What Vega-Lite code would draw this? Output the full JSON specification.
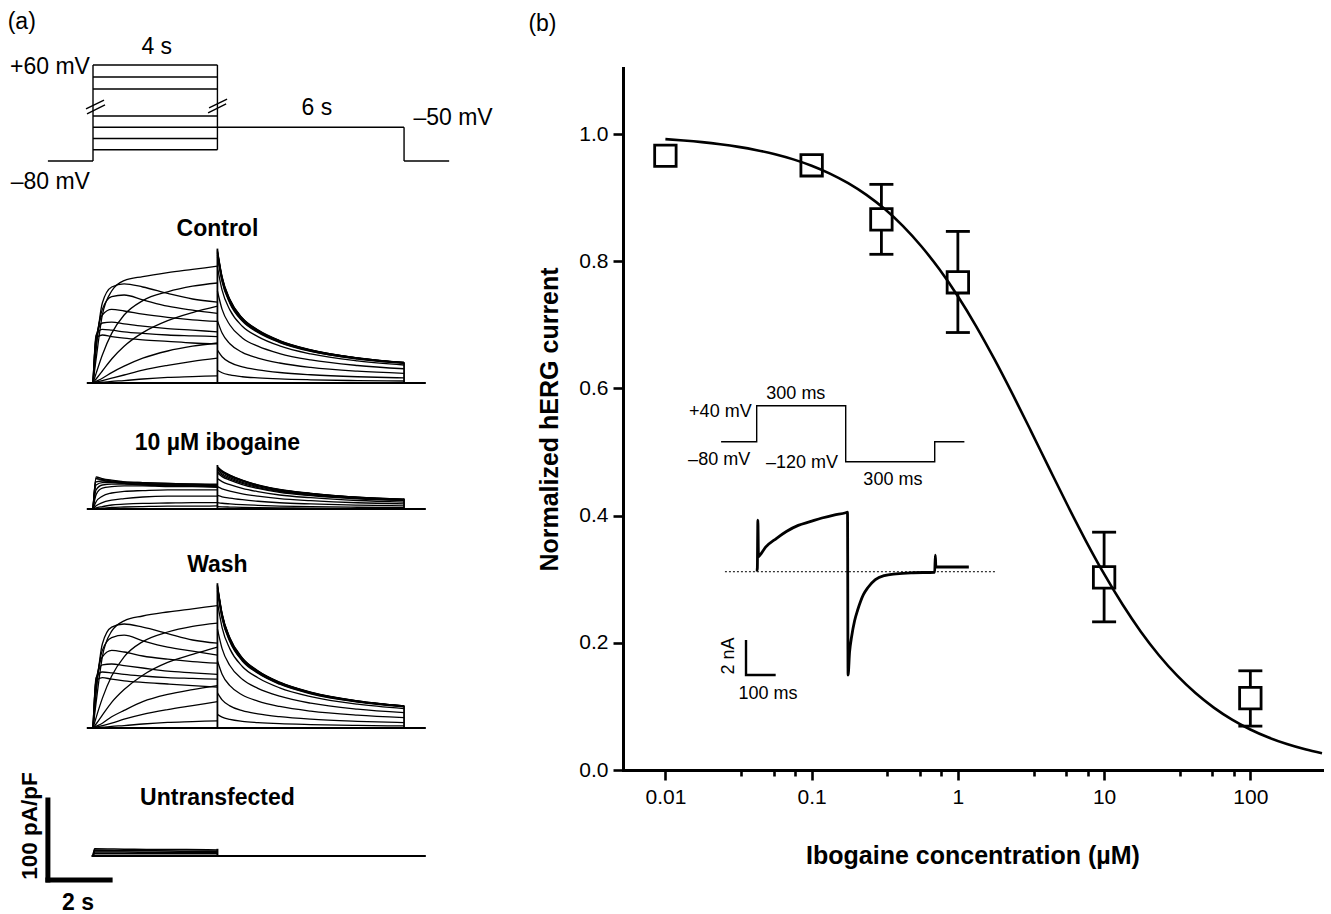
{
  "$schema": "https://vega.github.io/schema/vega-lite/v6.json",
  "padding": 0,
  "background": "white",
  "bounds": "flush",
  "spacing": 153,
  "config": {
    "view": {"stroke": null},
    "font": "Liberation Sans",
    "text": {"color": "black", "font": "Liberation Sans"},
    "line": {"color": "black"},
    "rule": {"color": "black"}
  },
  "datasets": {
    "ctrl": [
      {"k":"s1","t":0,"i":0},{"k":"s1","t":0.1,"i":56},{"k":"s1","t":0.3,"i":60},{"k":"s1","t":0.6,"i":58},{"k":"s1","t":1,"i":56},{"k":"s1","t":1.6,"i":54},{"k":"s1","t":2.4,"i":52},{"k":"s1","t":3.2,"i":50},{"k":"s1","t":4,"i":49},
      {"k":"t1","t":4,"i":160},{"k":"t1","t":4.15,"i":128},{"k":"t1","t":4.4,"i":100.8},{"k":"t1","t":4.8,"i":78.4},{"k":"t1","t":5.3,"i":64},{"k":"t1","t":6,"i":51.2},{"k":"t1","t":7,"i":40},{"k":"t1","t":8.5,"i":30.4},{"k":"t1","t":10,"i":24.8},
      {"k":"s2","t":0,"i":0},{"k":"s2","t":0.1,"i":60},{"k":"s2","t":0.3,"i":67},{"k":"s2","t":0.6,"i":66},{"k":"s2","t":1,"i":64},{"k":"s2","t":1.6,"i":62},{"k":"s2","t":2.4,"i":60},{"k":"s2","t":3.2,"i":59},{"k":"s2","t":4,"i":58},
      {"k":"t2","t":4,"i":162},{"k":"t2","t":4.15,"i":129.6},{"k":"t2","t":4.4,"i":102.1},{"k":"t2","t":4.8,"i":79.4},{"k":"t2","t":5.3,"i":64.8},{"k":"t2","t":6,"i":51.8},{"k":"t2","t":7,"i":40.5},{"k":"t2","t":8.5,"i":30.8},{"k":"t2","t":10,"i":25.1},
      {"k":"s3","t":0,"i":0},{"k":"s3","t":0.1,"i":58},{"k":"s3","t":0.3,"i":75},{"k":"s3","t":0.6,"i":76},{"k":"s3","t":1,"i":74},{"k":"s3","t":1.6,"i":71},{"k":"s3","t":2.4,"i":68},{"k":"s3","t":3.2,"i":66},{"k":"s3","t":4,"i":64},
      {"k":"t3","t":4,"i":164},{"k":"t3","t":4.15,"i":131.2},{"k":"t3","t":4.4,"i":103.3},{"k":"t3","t":4.8,"i":80.4},{"k":"t3","t":5.3,"i":65.6},{"k":"t3","t":6,"i":52.5},{"k":"t3","t":7,"i":41},{"k":"t3","t":8.5,"i":31.2},{"k":"t3","t":10,"i":25.4},
      {"k":"s4","t":0,"i":0},{"k":"s4","t":0.1,"i":52},{"k":"s4","t":0.3,"i":85},{"k":"s4","t":0.6,"i":92},{"k":"s4","t":1,"i":90},{"k":"s4","t":1.6,"i":86},{"k":"s4","t":2.4,"i":82},{"k":"s4","t":3.2,"i":79},{"k":"s4","t":4,"i":77},
      {"k":"t4","t":4,"i":166},{"k":"t4","t":4.15,"i":132.8},{"k":"t4","t":4.4,"i":104.6},{"k":"t4","t":4.8,"i":81.3},{"k":"t4","t":5.3,"i":66.4},{"k":"t4","t":6,"i":53.1},{"k":"t4","t":7,"i":41.5},{"k":"t4","t":8.5,"i":31.5},{"k":"t4","t":10,"i":25.7},
      {"k":"s5","t":0,"i":0},{"k":"s5","t":0.1,"i":45},{"k":"s5","t":0.3,"i":92},{"k":"s5","t":0.6,"i":108},{"k":"s5","t":1,"i":110},{"k":"s5","t":1.6,"i":104},{"k":"s5","t":2.4,"i":96},{"k":"s5","t":3.2,"i":91},{"k":"s5","t":4,"i":87},
      {"k":"t5","t":4,"i":165},{"k":"t5","t":4.15,"i":132},{"k":"t5","t":4.4,"i":104},{"k":"t5","t":4.8,"i":80.9},{"k":"t5","t":5.3,"i":66},{"k":"t5","t":6,"i":52.8},{"k":"t5","t":7,"i":41.3},{"k":"t5","t":8.5,"i":31.4},{"k":"t5","t":10,"i":25.6},
      {"k":"s6","t":0,"i":0},{"k":"s6","t":0.1,"i":42},{"k":"s6","t":0.3,"i":100},{"k":"s6","t":0.6,"i":120},{"k":"s6","t":1,"i":124},{"k":"s6","t":1.6,"i":120},{"k":"s6","t":2.4,"i":112},{"k":"s6","t":3.2,"i":105},{"k":"s6","t":4,"i":101},
      {"k":"t6","t":4,"i":163},{"k":"t6","t":4.15,"i":130.4},{"k":"t6","t":4.4,"i":102.7},{"k":"t6","t":4.8,"i":79.9},{"k":"t6","t":5.3,"i":65.2},{"k":"t6","t":6,"i":52.2},{"k":"t6","t":7,"i":40.8},{"k":"t6","t":8.5,"i":31},{"k":"t6","t":10,"i":25.3},
      {"k":"s7","t":0,"i":0},{"k":"s7","t":0.1,"i":30},{"k":"s7","t":0.3,"i":85},{"k":"s7","t":0.6,"i":115},{"k":"s7","t":1,"i":128},{"k":"s7","t":1.6,"i":133},{"k":"s7","t":2.4,"i":138},{"k":"s7","t":3.2,"i":142},{"k":"s7","t":4,"i":146},
      {"k":"t7","t":4,"i":158},{"k":"t7","t":4.15,"i":126.4},{"k":"t7","t":4.4,"i":99.5},{"k":"t7","t":4.8,"i":77.4},{"k":"t7","t":5.3,"i":63.2},{"k":"t7","t":6,"i":50.6},{"k":"t7","t":7,"i":39.5},{"k":"t7","t":8.5,"i":30},{"k":"t7","t":10,"i":24.5},
      {"k":"s8","t":0,"i":0},{"k":"s8","t":0.1,"i":12},{"k":"s8","t":0.3,"i":35},{"k":"s8","t":0.6,"i":62},{"k":"s8","t":1,"i":85},{"k":"s8","t":1.6,"i":103},{"k":"s8","t":2.4,"i":114},{"k":"s8","t":3.2,"i":121},{"k":"s8","t":4,"i":125},
      {"k":"t8","t":4,"i":145},{"k":"t8","t":4.15,"i":116},{"k":"t8","t":4.4,"i":91.4},{"k":"t8","t":4.8,"i":71},{"k":"t8","t":5.3,"i":58},{"k":"t8","t":6,"i":46.4},{"k":"t8","t":7,"i":36.3},{"k":"t8","t":8.5,"i":27.6},{"k":"t8","t":10,"i":22.5},
      {"k":"s9","t":0,"i":0},{"k":"s9","t":0.1,"i":5},{"k":"s9","t":0.3,"i":15},{"k":"s9","t":0.6,"i":30},{"k":"s9","t":1,"i":46},{"k":"s9","t":1.6,"i":63},{"k":"s9","t":2.4,"i":78},{"k":"s9","t":3.2,"i":88},{"k":"s9","t":4,"i":96},
      {"k":"t9","t":4,"i":115},{"k":"t9","t":4.15,"i":92},{"k":"t9","t":4.4,"i":72.5},{"k":"t9","t":4.8,"i":56.4},{"k":"t9","t":5.3,"i":46},{"k":"t9","t":6,"i":36.8},{"k":"t9","t":7,"i":28.8},{"k":"t9","t":8.5,"i":21.9},{"k":"t9","t":10,"i":17.8},
      {"k":"s10","t":0,"i":0},{"k":"s10","t":0.1,"i":2},{"k":"s10","t":0.3,"i":6},{"k":"s10","t":0.6,"i":13},{"k":"s10","t":1,"i":21},{"k":"s10","t":1.6,"i":31},{"k":"s10","t":2.4,"i":40},{"k":"s10","t":3.2,"i":46},{"k":"s10","t":4,"i":50},
      {"k":"t10","t":4,"i":78},{"k":"t10","t":4.15,"i":62.4},{"k":"t10","t":4.4,"i":49.1},{"k":"t10","t":4.8,"i":38.2},{"k":"t10","t":5.3,"i":31.2},{"k":"t10","t":6,"i":25},{"k":"t10","t":7,"i":19.5},{"k":"t10","t":8.5,"i":14.8},{"k":"t10","t":10,"i":12.1},
      {"k":"s11","t":0,"i":0},{"k":"s11","t":0.1,"i":1},{"k":"s11","t":0.3,"i":3},{"k":"s11","t":0.6,"i":6},{"k":"s11","t":1,"i":10},{"k":"s11","t":1.6,"i":16},{"k":"s11","t":2.4,"i":22},{"k":"s11","t":3.2,"i":27},{"k":"s11","t":4,"i":31},
      {"k":"t11","t":4,"i":41},{"k":"t11","t":4.15,"i":32.8},{"k":"t11","t":4.4,"i":25.8},{"k":"t11","t":4.8,"i":20.1},{"k":"t11","t":5.3,"i":16.4},{"k":"t11","t":6,"i":13.1},{"k":"t11","t":7,"i":10.3},{"k":"t11","t":8.5,"i":7.8},{"k":"t11","t":10,"i":6.4},
      {"k":"s12","t":0,"i":0},{"k":"s12","t":0.1,"i":0.5},{"k":"s12","t":0.3,"i":1},{"k":"s12","t":0.6,"i":2},{"k":"s12","t":1,"i":3},{"k":"s12","t":1.6,"i":5},{"k":"s12","t":2.4,"i":7},{"k":"s12","t":3.2,"i":8},{"k":"s12","t":4,"i":9},
      {"k":"t12","t":4,"i":16},{"k":"t12","t":4.15,"i":12.8},{"k":"t12","t":4.4,"i":10.1},{"k":"t12","t":4.8,"i":7.8},{"k":"t12","t":5.3,"i":6.4},{"k":"t12","t":6,"i":5.1},{"k":"t12","t":7,"i":4},{"k":"t12","t":8.5,"i":3},{"k":"t12","t":10,"i":2.5}
    ],
    "ibo": [
      {"k":"s1","t":0,"i":0},{"k":"s1","t":0.1,"i":38},{"k":"s1","t":0.3,"i":36},{"k":"s1","t":0.6,"i":34},{"k":"s1","t":1,"i":32},{"k":"s1","t":1.6,"i":31},{"k":"s1","t":2.4,"i":30},{"k":"s1","t":3.2,"i":29},{"k":"s1","t":4,"i":28},
      {"k":"t1","t":4,"i":52},{"k":"t1","t":4.15,"i":46.8},{"k":"t1","t":4.4,"i":41.6},{"k":"t1","t":4.8,"i":35.4},{"k":"t1","t":5.3,"i":29.6},{"k":"t1","t":6,"i":23.9},{"k":"t1","t":7,"i":19.2},{"k":"t1","t":8.5,"i":14.6},{"k":"t1","t":10,"i":12},
      {"k":"s2","t":0,"i":0},{"k":"s2","t":0.1,"i":40},{"k":"s2","t":0.3,"i":38},{"k":"s2","t":0.6,"i":36},{"k":"s2","t":1,"i":34},{"k":"s2","t":1.6,"i":33},{"k":"s2","t":2.4,"i":32},{"k":"s2","t":3.2,"i":31},{"k":"s2","t":4,"i":30},
      {"k":"t2","t":4,"i":53},{"k":"t2","t":4.15,"i":47.7},{"k":"t2","t":4.4,"i":42.4},{"k":"t2","t":4.8,"i":36},{"k":"t2","t":5.3,"i":30.2},{"k":"t2","t":6,"i":24.4},{"k":"t2","t":7,"i":19.6},{"k":"t2","t":8.5,"i":14.8},{"k":"t2","t":10,"i":12.2},
      {"k":"s3","t":0,"i":0},{"k":"s3","t":0.1,"i":38},{"k":"s3","t":0.3,"i":37},{"k":"s3","t":0.6,"i":35},{"k":"s3","t":1,"i":34},{"k":"s3","t":1.6,"i":33},{"k":"s3","t":2.4,"i":32},{"k":"s3","t":3.2,"i":31},{"k":"s3","t":4,"i":31},
      {"k":"t3","t":4,"i":52.5},{"k":"t3","t":4.15,"i":47.3},{"k":"t3","t":4.4,"i":42},{"k":"t3","t":4.8,"i":35.7},{"k":"t3","t":5.3,"i":29.9},{"k":"t3","t":6,"i":24.2},{"k":"t3","t":7,"i":19.4},{"k":"t3","t":8.5,"i":14.7},{"k":"t3","t":10,"i":12.1},
      {"k":"s4","t":0,"i":0},{"k":"s4","t":0.1,"i":34},{"k":"s4","t":0.3,"i":35},{"k":"s4","t":0.6,"i":34},{"k":"s4","t":1,"i":33},{"k":"s4","t":1.6,"i":32},{"k":"s4","t":2.4,"i":31},{"k":"s4","t":3.2,"i":31},{"k":"s4","t":4,"i":30},
      {"k":"t4","t":4,"i":51},{"k":"t4","t":4.15,"i":45.9},{"k":"t4","t":4.4,"i":40.8},{"k":"t4","t":4.8,"i":34.7},{"k":"t4","t":5.3,"i":29.1},{"k":"t4","t":6,"i":23.5},{"k":"t4","t":7,"i":18.9},{"k":"t4","t":8.5,"i":14.3},{"k":"t4","t":10,"i":11.7},
      {"k":"s5","t":0,"i":0},{"k":"s5","t":0.1,"i":30},{"k":"s5","t":0.3,"i":33},{"k":"s5","t":0.6,"i":33},{"k":"s5","t":1,"i":32},{"k":"s5","t":1.6,"i":31},{"k":"s5","t":2.4,"i":30},{"k":"s5","t":3.2,"i":30},{"k":"s5","t":4,"i":29},
      {"k":"t5","t":4,"i":49},{"k":"t5","t":4.15,"i":44.1},{"k":"t5","t":4.4,"i":39.2},{"k":"t5","t":4.8,"i":33.3},{"k":"t5","t":5.3,"i":27.9},{"k":"t5","t":6,"i":22.5},{"k":"t5","t":7,"i":18.1},{"k":"t5","t":8.5,"i":13.7},{"k":"t5","t":10,"i":11.3},
      {"k":"s6","t":0,"i":0},{"k":"s6","t":0.1,"i":24},{"k":"s6","t":0.3,"i":30},{"k":"s6","t":0.6,"i":31},{"k":"s6","t":1,"i":31},{"k":"s6","t":1.6,"i":30},{"k":"s6","t":2.4,"i":29},{"k":"s6","t":3.2,"i":29},{"k":"s6","t":4,"i":28},
      {"k":"t6","t":4,"i":47},{"k":"t6","t":4.15,"i":42.3},{"k":"t6","t":4.4,"i":37.6},{"k":"t6","t":4.8,"i":32},{"k":"t6","t":5.3,"i":26.8},{"k":"t6","t":6,"i":21.6},{"k":"t6","t":7,"i":17.4},{"k":"t6","t":8.5,"i":13.2},{"k":"t6","t":10,"i":10.8},
      {"k":"s7","t":0,"i":0},{"k":"s7","t":0.1,"i":18},{"k":"s7","t":0.3,"i":26},{"k":"s7","t":0.6,"i":28},{"k":"s7","t":1,"i":29},{"k":"s7","t":1.6,"i":29},{"k":"s7","t":2.4,"i":28},{"k":"s7","t":3.2,"i":28},{"k":"s7","t":4,"i":27},
      {"k":"t7","t":4,"i":45},{"k":"t7","t":4.15,"i":40.5},{"k":"t7","t":4.4,"i":36},{"k":"t7","t":4.8,"i":30.6},{"k":"t7","t":5.3,"i":25.7},{"k":"t7","t":6,"i":20.7},{"k":"t7","t":7,"i":16.7},{"k":"t7","t":8.5,"i":12.6},{"k":"t7","t":10,"i":10.4},
      {"k":"s8","t":0,"i":0},{"k":"s8","t":0.1,"i":9},{"k":"s8","t":0.3,"i":16},{"k":"s8","t":0.6,"i":20},{"k":"s8","t":1,"i":22},{"k":"s8","t":1.6,"i":23},{"k":"s8","t":2.4,"i":24},{"k":"s8","t":3.2,"i":24},{"k":"s8","t":4,"i":24},
      {"k":"t8","t":4,"i":38},{"k":"t8","t":4.15,"i":34.2},{"k":"t8","t":4.4,"i":30.4},{"k":"t8","t":4.8,"i":25.8},{"k":"t8","t":5.3,"i":21.7},{"k":"t8","t":6,"i":17.5},{"k":"t8","t":7,"i":14.1},{"k":"t8","t":8.5,"i":10.6},{"k":"t8","t":10,"i":8.7},
      {"k":"s9","t":0,"i":0},{"k":"s9","t":0.1,"i":4},{"k":"s9","t":0.3,"i":8},{"k":"s9","t":0.6,"i":11},{"k":"s9","t":1,"i":13},{"k":"s9","t":1.6,"i":15},{"k":"s9","t":2.4,"i":16},{"k":"s9","t":3.2,"i":16},{"k":"s9","t":4,"i":16},
      {"k":"t9","t":4,"i":28},{"k":"t9","t":4.15,"i":25.2},{"k":"t9","t":4.4,"i":22.4},{"k":"t9","t":4.8,"i":19},{"k":"t9","t":5.3,"i":16},{"k":"t9","t":6,"i":12.9},{"k":"t9","t":7,"i":10.4},{"k":"t9","t":8.5,"i":7.8},{"k":"t9","t":10,"i":6.4},
      {"k":"s10","t":0,"i":0},{"k":"s10","t":0.1,"i":1.5},{"k":"s10","t":0.3,"i":3},{"k":"s10","t":0.6,"i":5},{"k":"s10","t":1,"i":6},{"k":"s10","t":1.6,"i":7},{"k":"s10","t":2.4,"i":7.5},{"k":"s10","t":3.2,"i":8},{"k":"s10","t":4,"i":8},
      {"k":"t10","t":4,"i":17},{"k":"t10","t":4.15,"i":15.3},{"k":"t10","t":4.4,"i":13.6},{"k":"t10","t":4.8,"i":11.6},{"k":"t10","t":5.3,"i":9.7},{"k":"t10","t":6,"i":7.8},{"k":"t10","t":7,"i":6.3},{"k":"t10","t":8.5,"i":4.8},{"k":"t10","t":10,"i":3.9},
      {"k":"s11","t":0,"i":0},{"k":"s11","t":0.1,"i":0.5},{"k":"s11","t":0.3,"i":1},{"k":"s11","t":0.6,"i":2},{"k":"s11","t":1,"i":2.5},{"k":"s11","t":1.6,"i":3},{"k":"s11","t":2.4,"i":3.5},{"k":"s11","t":3.2,"i":3.5},{"k":"s11","t":4,"i":4},
      {"k":"t11","t":4,"i":8},{"k":"t11","t":4.15,"i":7.2},{"k":"t11","t":4.4,"i":6.4},{"k":"t11","t":4.8,"i":5.4},{"k":"t11","t":5.3,"i":4.6},{"k":"t11","t":6,"i":3.7},{"k":"t11","t":7,"i":3},{"k":"t11","t":8.5,"i":2.2},{"k":"t11","t":10,"i":1.8},
      {"k":"t12","t":4,"i":3},{"k":"t12","t":4.15,"i":2.7},{"k":"t12","t":4.4,"i":2.4},{"k":"t12","t":4.8,"i":2},{"k":"t12","t":5.3,"i":1.7},{"k":"t12","t":6,"i":1.4},{"k":"t12","t":7,"i":1.1},{"k":"t12","t":8.5,"i":0.8},{"k":"t12","t":10,"i":0.7}
    ],
    "wash": [
      {"k":"s1","t":0,"i":0},{"k":"s1","t":0.1,"i":59},{"k":"s1","t":0.3,"i":63},{"k":"s1","t":0.6,"i":61},{"k":"s1","t":1,"i":59},{"k":"s1","t":1.6,"i":57},{"k":"s1","t":2.4,"i":55},{"k":"s1","t":3.2,"i":53},{"k":"s1","t":4,"i":51},
      {"k":"t1","t":4,"i":173},{"k":"t1","t":4.15,"i":138.4},{"k":"t1","t":4.4,"i":109},{"k":"t1","t":4.8,"i":84.8},{"k":"t1","t":5.3,"i":69.2},{"k":"t1","t":6,"i":55.4},{"k":"t1","t":7,"i":43.3},{"k":"t1","t":8.5,"i":32.9},{"k":"t1","t":10,"i":26.8},
      {"k":"s2","t":0,"i":0},{"k":"s2","t":0.1,"i":63},{"k":"s2","t":0.3,"i":70},{"k":"s2","t":0.6,"i":69},{"k":"s2","t":1,"i":67},{"k":"s2","t":1.6,"i":65},{"k":"s2","t":2.4,"i":63},{"k":"s2","t":3.2,"i":62},{"k":"s2","t":4,"i":61},
      {"k":"t2","t":4,"i":175},{"k":"t2","t":4.15,"i":140},{"k":"t2","t":4.4,"i":110.3},{"k":"t2","t":4.8,"i":85.8},{"k":"t2","t":5.3,"i":70},{"k":"t2","t":6,"i":56},{"k":"t2","t":7,"i":43.8},{"k":"t2","t":8.5,"i":33.3},{"k":"t2","t":10,"i":27.1},
      {"k":"s3","t":0,"i":0},{"k":"s3","t":0.1,"i":61},{"k":"s3","t":0.3,"i":79},{"k":"s3","t":0.6,"i":80},{"k":"s3","t":1,"i":78},{"k":"s3","t":1.6,"i":75},{"k":"s3","t":2.4,"i":71},{"k":"s3","t":3.2,"i":69},{"k":"s3","t":4,"i":67},
      {"k":"t3","t":4,"i":177},{"k":"t3","t":4.15,"i":141.6},{"k":"t3","t":4.4,"i":111.5},{"k":"t3","t":4.8,"i":86.7},{"k":"t3","t":5.3,"i":70.8},{"k":"t3","t":6,"i":56.6},{"k":"t3","t":7,"i":44.3},{"k":"t3","t":8.5,"i":33.6},{"k":"t3","t":10,"i":27.4},
      {"k":"s4","t":0,"i":0},{"k":"s4","t":0.1,"i":55},{"k":"s4","t":0.3,"i":89},{"k":"s4","t":0.6,"i":97},{"k":"s4","t":1,"i":95},{"k":"s4","t":1.6,"i":90},{"k":"s4","t":2.4,"i":86},{"k":"s4","t":3.2,"i":83},{"k":"s4","t":4,"i":81},
      {"k":"t4","t":4,"i":179},{"k":"t4","t":4.15,"i":143.2},{"k":"t4","t":4.4,"i":112.8},{"k":"t4","t":4.8,"i":87.7},{"k":"t4","t":5.3,"i":71.6},{"k":"t4","t":6,"i":57.3},{"k":"t4","t":7,"i":44.8},{"k":"t4","t":8.5,"i":34},{"k":"t4","t":10,"i":27.7},
      {"k":"s5","t":0,"i":0},{"k":"s5","t":0.1,"i":47},{"k":"s5","t":0.3,"i":97},{"k":"s5","t":0.6,"i":113},{"k":"s5","t":1,"i":116},{"k":"s5","t":1.6,"i":109},{"k":"s5","t":2.4,"i":101},{"k":"s5","t":3.2,"i":96},{"k":"s5","t":4,"i":91},
      {"k":"t5","t":4,"i":178},{"k":"t5","t":4.15,"i":142.4},{"k":"t5","t":4.4,"i":112.1},{"k":"t5","t":4.8,"i":87.2},{"k":"t5","t":5.3,"i":71.2},{"k":"t5","t":6,"i":57},{"k":"t5","t":7,"i":44.5},{"k":"t5","t":8.5,"i":33.8},{"k":"t5","t":10,"i":27.6},
      {"k":"s6","t":0,"i":0},{"k":"s6","t":0.1,"i":44},{"k":"s6","t":0.3,"i":105},{"k":"s6","t":0.6,"i":126},{"k":"s6","t":1,"i":130},{"k":"s6","t":1.6,"i":126},{"k":"s6","t":2.4,"i":118},{"k":"s6","t":3.2,"i":110},{"k":"s6","t":4,"i":106},
      {"k":"t6","t":4,"i":176},{"k":"t6","t":4.15,"i":140.8},{"k":"t6","t":4.4,"i":110.9},{"k":"t6","t":4.8,"i":86.2},{"k":"t6","t":5.3,"i":70.4},{"k":"t6","t":6,"i":56.3},{"k":"t6","t":7,"i":44},{"k":"t6","t":8.5,"i":33.4},{"k":"t6","t":10,"i":27.3},
      {"k":"s7","t":0,"i":0},{"k":"s7","t":0.1,"i":32},{"k":"s7","t":0.3,"i":89},{"k":"s7","t":0.6,"i":121},{"k":"s7","t":1,"i":134},{"k":"s7","t":1.6,"i":140},{"k":"s7","t":2.4,"i":145},{"k":"s7","t":3.2,"i":149},{"k":"s7","t":4,"i":153},
      {"k":"t7","t":4,"i":171},{"k":"t7","t":4.15,"i":136.8},{"k":"t7","t":4.4,"i":107.7},{"k":"t7","t":4.8,"i":83.8},{"k":"t7","t":5.3,"i":68.4},{"k":"t7","t":6,"i":54.7},{"k":"t7","t":7,"i":42.8},{"k":"t7","t":8.5,"i":32.5},{"k":"t7","t":10,"i":26.5},
      {"k":"s8","t":0,"i":0},{"k":"s8","t":0.1,"i":13},{"k":"s8","t":0.3,"i":37},{"k":"s8","t":0.6,"i":65},{"k":"s8","t":1,"i":89},{"k":"s8","t":1.6,"i":108},{"k":"s8","t":2.4,"i":120},{"k":"s8","t":3.2,"i":127},{"k":"s8","t":4,"i":131},
      {"k":"t8","t":4,"i":157},{"k":"t8","t":4.15,"i":125.6},{"k":"t8","t":4.4,"i":98.9},{"k":"t8","t":4.8,"i":76.9},{"k":"t8","t":5.3,"i":62.8},{"k":"t8","t":6,"i":50.2},{"k":"t8","t":7,"i":39.3},{"k":"t8","t":8.5,"i":29.8},{"k":"t8","t":10,"i":24.3},
      {"k":"s9","t":0,"i":0},{"k":"s9","t":0.1,"i":5},{"k":"s9","t":0.3,"i":16},{"k":"s9","t":0.6,"i":32},{"k":"s9","t":1,"i":48},{"k":"s9","t":1.6,"i":66},{"k":"s9","t":2.4,"i":82},{"k":"s9","t":3.2,"i":92},{"k":"s9","t":4,"i":101},
      {"k":"t9","t":4,"i":124},{"k":"t9","t":4.15,"i":99.2},{"k":"t9","t":4.4,"i":78.1},{"k":"t9","t":4.8,"i":60.8},{"k":"t9","t":5.3,"i":49.6},{"k":"t9","t":6,"i":39.7},{"k":"t9","t":7,"i":31},{"k":"t9","t":8.5,"i":23.6},{"k":"t9","t":10,"i":19.2},
      {"k":"s10","t":0,"i":0},{"k":"s10","t":0.1,"i":2},{"k":"s10","t":0.3,"i":6},{"k":"s10","t":0.6,"i":14},{"k":"s10","t":1,"i":22},{"k":"s10","t":1.6,"i":33},{"k":"s10","t":2.4,"i":42},{"k":"s10","t":3.2,"i":48},{"k":"s10","t":4,"i":53},
      {"k":"t10","t":4,"i":84},{"k":"t10","t":4.15,"i":67.2},{"k":"t10","t":4.4,"i":52.9},{"k":"t10","t":4.8,"i":41.2},{"k":"t10","t":5.3,"i":33.6},{"k":"t10","t":6,"i":26.9},{"k":"t10","t":7,"i":21},{"k":"t10","t":8.5,"i":16},{"k":"t10","t":10,"i":13},
      {"k":"s11","t":0,"i":0},{"k":"s11","t":0.1,"i":1},{"k":"s11","t":0.3,"i":3},{"k":"s11","t":0.6,"i":6},{"k":"s11","t":1,"i":11},{"k":"s11","t":1.6,"i":17},{"k":"s11","t":2.4,"i":23},{"k":"s11","t":3.2,"i":28},{"k":"s11","t":4,"i":33},
      {"k":"t11","t":4,"i":44},{"k":"t11","t":4.15,"i":35.2},{"k":"t11","t":4.4,"i":27.7},{"k":"t11","t":4.8,"i":21.6},{"k":"t11","t":5.3,"i":17.6},{"k":"t11","t":6,"i":14.1},{"k":"t11","t":7,"i":11},{"k":"t11","t":8.5,"i":8.4},{"k":"t11","t":10,"i":6.8},
      {"k":"s12","t":0,"i":0},{"k":"s12","t":0.1,"i":0.5},{"k":"s12","t":0.3,"i":1},{"k":"s12","t":0.6,"i":2},{"k":"s12","t":1,"i":3},{"k":"s12","t":1.6,"i":5},{"k":"s12","t":2.4,"i":7},{"k":"s12","t":3.2,"i":8},{"k":"s12","t":4,"i":9},
      {"k":"t12","t":4,"i":17},{"k":"t12","t":4.15,"i":13.6},{"k":"t12","t":4.4,"i":10.7},{"k":"t12","t":4.8,"i":8.3},{"k":"t12","t":5.3,"i":6.8},{"k":"t12","t":6,"i":5.4},{"k":"t12","t":7,"i":4.3},{"k":"t12","t":8.5,"i":3.2},{"k":"t12","t":10,"i":2.6}
    ],
    "untr": [
      {"k":"u1","t":0,"i":0},{"k":"u1","t":0.05,"i":9},{"k":"u1","t":1,"i":8.5},{"k":"u1","t":2,"i":8},{"k":"u1","t":3,"i":8},{"k":"u1","t":4,"i":7.5},
      {"k":"u2","t":0,"i":0},{"k":"u2","t":0.05,"i":7},{"k":"u2","t":1,"i":6.5},{"k":"u2","t":2,"i":6.5},{"k":"u2","t":3,"i":6},{"k":"u2","t":4,"i":6},
      {"k":"u3","t":0,"i":0},{"k":"u3","t":0.05,"i":5},{"k":"u3","t":1,"i":5},{"k":"u3","t":2,"i":4.5},{"k":"u3","t":3,"i":4.5},{"k":"u3","t":4,"i":4.5},
      {"k":"u4","t":0,"i":0},{"k":"u4","t":0.05,"i":3},{"k":"u4","t":1,"i":3},{"k":"u4","t":2,"i":3},{"k":"u4","t":3,"i":3},{"k":"u4","t":4,"i":3}
    ]
  },
  "hconcat": [
    {
      "width": 470, "height": 914,
      "resolve": {"scale": {"y": "independent"}},
      "encoding": {
        "x": {"field": "t", "type": "quantitative", "scale": {"domain": [-2.99, 12.12], "nice": false, "zero": false}, "axis": null}
      },
      "layer": [
        {
          "encoding": {
            "y": {"field": "v", "type": "quantitative", "scale": {"domain": [-80, -40, 40, 60], "range": [161, 116, 89, 65], "nice": false, "zero": false}, "axis": null}
          },
          "layer": [
            {
              "data": {"values": [
                {"t":-1.45,"t2":0,"v":-80,"v2":-80},
                {"t":0,"t2":0,"v":-80,"v2":60},
                {"t":0,"t2":4,"v":60,"v2":60},
                {"t":0,"t2":4,"v":50,"v2":50},
                {"t":0,"t2":4,"v":40,"v2":40},
                {"t":0,"t2":4,"v":-40,"v2":-40},
                {"t":0,"t2":4,"v":-50,"v2":-50},
                {"t":0,"t2":4,"v":-60,"v2":-60},
                {"t":0,"t2":4,"v":-70,"v2":-70},
                {"t":4,"t2":4,"v":-70,"v2":60},
                {"t":4,"t2":10,"v":-50,"v2":-50},
                {"t":10,"t2":10,"v":-80,"v2":-50},
                {"t":10,"t2":11.45,"v":-80,"v2":-80},
                {"t":-0.225,"t2":0.354,"v":-19,"v2":7},
                {"t":-0.193,"t2":0.386,"v":-34,"v2":-7},
                {"t":3.73,"t2":4.31,"v":-16,"v2":10},
                {"t":3.7,"t2":4.28,"v":-31,"v2":-4}
              ]},
              "mark": {"type": "rule", "strokeWidth": 1.4},
              "encoding": {"x2": {"field": "t2"}, "y2": {"field": "v2"}}
            },
            {
              "data": {"values": [
                {"t":-2.29,"v":95.8,"label":"(a)"},
                {"t":14.45,"v":94.2,"label":"(b)"},
                {"t":2.05,"v":75,"label":"4 s"},
                {"t":7.2,"v":-16.3,"label":"6 s"}
              ]},
              "mark": {"type": "text", "fontSize": 23, "align": "center", "baseline": "middle"},
              "encoding": {"text": {"field": "label"}}
            },
            {
              "data": {"values": [
                {"t":-0.1,"v":58.3,"label":"+60 mV"},
                {"t":-0.1,"v":-98.7,"label":"–80 mV"}
              ]},
              "mark": {"type": "text", "fontSize": 23, "align": "right", "baseline": "middle"},
              "encoding": {"text": {"field": "label"}}
            },
            {
              "data": {"values": [
                {"t":10.3,"v":-41.8,"label":"–50 mV"}
              ]},
              "mark": {"type": "text", "fontSize": 23, "align": "left", "baseline": "middle"},
              "encoding": {"text": {"field": "label"}}
            }
          ]
        },
        {
          "encoding": {
            "y": {"field": "i", "type": "quantitative", "scale": {"domain": [-663.75, 478.75], "nice": false, "zero": false}, "axis": null}
          },
          "layer": [
            {"data": {"name": "ctrl"}, "mark": {"type": "line", "strokeWidth": 1.3, "interpolate": "monotone"}, "encoding": {"detail": {"field": "k"}}},
            {
              "data": {"values": [
                {"t":-0.2,"t2":10.7,"i":0,"i2":0},
                {"t":4,"t2":4,"i":0,"i2":168},
                {"t":10,"t2":10,"i":0,"i2":26}
              ]},
              "mark": {"type": "rule", "strokeWidth": 1.8},
              "encoding": {"x2": {"field": "t2"}, "y2": {"field": "i2"}}
            },
            {
              "data": {"values": [{"t":4,"i":192.5,"label":"Control"}]},
              "mark": {"type": "text", "fontSize": 23, "fontWeight": "bold", "align": "center", "baseline": "middle"},
              "encoding": {"text": {"field": "label"}}
            }
          ]
        },
        {
          "encoding": {
            "y": {"field": "i", "type": "quantitative", "scale": {"domain": [-506.25, 636.25], "nice": false, "zero": false}, "axis": null}
          },
          "layer": [
            {"data": {"name": "ibo"}, "mark": {"type": "line", "strokeWidth": 1.3, "interpolate": "monotone"}, "encoding": {"detail": {"field": "k"}}},
            {
              "data": {"values": [
                {"t":-0.2,"t2":10.7,"i":0,"i2":0},
                {"t":4,"t2":4,"i":0,"i2":55},
                {"t":10,"t2":10,"i":0,"i2":13}
              ]},
              "mark": {"type": "rule", "strokeWidth": 1.8},
              "encoding": {"x2": {"field": "t2"}, "y2": {"field": "i2"}}
            },
            {
              "data": {"values": [{"t":4,"i":82.5,"label":"10 µM ibogaine"}]},
              "mark": {"type": "text", "fontSize": 23, "fontWeight": "bold", "align": "center", "baseline": "middle"},
              "encoding": {"text": {"field": "label"}}
            }
          ]
        },
        {
          "encoding": {
            "y": {"field": "i", "type": "quantitative", "scale": {"domain": [-232.5, 910], "nice": false, "zero": false}, "axis": null}
          },
          "layer": [
            {"data": {"name": "wash"}, "mark": {"type": "line", "strokeWidth": 1.3, "interpolate": "monotone"}, "encoding": {"detail": {"field": "k"}}},
            {
              "data": {"values": [
                {"t":-0.2,"t2":10.7,"i":0,"i2":0},
                {"t":4,"t2":4,"i":0,"i2":181},
                {"t":10,"t2":10,"i":0,"i2":28}
              ]},
              "mark": {"type": "rule", "strokeWidth": 1.8},
              "encoding": {"x2": {"field": "t2"}, "y2": {"field": "i2"}}
            },
            {
              "data": {"values": [{"t":4,"i":203.75,"label":"Wash"}]},
              "mark": {"type": "text", "fontSize": 23, "fontWeight": "bold", "align": "center", "baseline": "middle"},
              "encoding": {"text": {"field": "label"}}
            }
          ]
        },
        {
          "encoding": {
            "y": {"field": "i", "type": "quantitative", "scale": {"domain": [-72.5, 1070], "nice": false, "zero": false}, "axis": null}
          },
          "layer": [
            {"data": {"name": "untr"}, "mark": {"type": "line", "strokeWidth": 1.6, "interpolate": "monotone"}, "encoding": {"detail": {"field": "k"}}},
            {
              "data": {"values": [
                {"t":-0.05,"t2":10.7,"i":0,"i2":0},
                {"t":4,"t2":4,"i":0,"i2":9}
              ]},
              "mark": {"type": "rule", "strokeWidth": 2},
              "encoding": {"x2": {"field": "t2"}, "y2": {"field": "i2"}}
            },
            {
              "data": {"values": [
                {"t":-1.45,"t2":-1.45,"i":-30,"i2":70},
                {"t":-1.45,"t2":0.55,"i":-30,"i2":-30}
              ]},
              "mark": {"type": "rule", "strokeWidth": 5, "strokeCap": "square"},
              "encoding": {"x2": {"field": "t2"}, "y2": {"field": "i2"}}
            },
            {
              "data": {"values": [
                {"t":4,"i":72.5,"label":"Untransfected"},
                {"t":-0.48,"i":-58.75,"label":"2 s"}
              ]},
              "mark": {"type": "text", "fontSize": 23, "fontWeight": "bold", "align": "center", "baseline": "middle"},
              "encoding": {"text": {"field": "label"}}
            },
            {
              "data": {"values": [{"t":-2.03,"i":37.5,"label":"100 pA/pF"}]},
              "mark": {"type": "text", "fontSize": 22.5, "fontWeight": "bold", "align": "center", "baseline": "middle", "angle": 270},
              "encoding": {"text": {"field": "label"}}
            }
          ]
        }
      ]
    },
    {
      "width": 699, "height": 770,
      "resolve": {"scale": {"x": "independent", "y": "independent"}},
      "layer": [
        {
          "data": {"values": [
            {"kind":"data","conc":0.01,"val":0.966},
            {"kind":"data","conc":0.1,"val":0.951},
            {"kind":"data","conc":0.3,"val":0.866,"lo":0.811,"hi":0.921},
            {"kind":"data","conc":1,"val":0.767,"lo":0.688,"hi":0.847},
            {"kind":"data","conc":10,"val":0.303,"lo":0.233,"hi":0.374},
            {"kind":"data","conc":100,"val":0.113,"lo":0.069,"hi":0.156},
            {"kind":"fit","conc":0.01,"val":0.9921},
            {"kind":"fit","conc":0.01334,"val":0.9900},
            {"kind":"fit","conc":0.01778,"val":0.9874},
            {"kind":"fit","conc":0.02371,"val":0.9841},
            {"kind":"fit","conc":0.03162,"val":0.9800},
            {"kind":"fit","conc":0.04217,"val":0.9748},
            {"kind":"fit","conc":0.05623,"val":0.9684},
            {"kind":"fit","conc":0.07499,"val":0.9603},
            {"kind":"fit","conc":0.1,"val":0.9503},
            {"kind":"fit","conc":0.1334,"val":0.9380},
            {"kind":"fit","conc":0.1778,"val":0.9229},
            {"kind":"fit","conc":0.2371,"val":0.9044},
            {"kind":"fit","conc":0.3162,"val":0.8821},
            {"kind":"fit","conc":0.4217,"val":0.8553},
            {"kind":"fit","conc":0.5623,"val":0.8237},
            {"kind":"fit","conc":0.7499,"val":0.7870},
            {"kind":"fit","conc":1,"val":0.7450},
            {"kind":"fit","conc":1.334,"val":0.6978},
            {"kind":"fit","conc":1.778,"val":0.6461},
            {"kind":"fit","conc":2.371,"val":0.5907},
            {"kind":"fit","conc":3.162,"val":0.5330},
            {"kind":"fit","conc":4.217,"val":0.4743},
            {"kind":"fit","conc":5.623,"val":0.4163},
            {"kind":"fit","conc":7.499,"val":0.3605},
            {"kind":"fit","conc":10,"val":0.3083},
            {"kind":"fit","conc":13.34,"val":0.2606},
            {"kind":"fit","conc":17.78,"val":0.2179},
            {"kind":"fit","conc":23.71,"val":0.1805},
            {"kind":"fit","conc":31.62,"val":0.1483},
            {"kind":"fit","conc":42.17,"val":0.1210},
            {"kind":"fit","conc":56.23,"val":0.0981},
            {"kind":"fit","conc":74.99,"val":0.0792},
            {"kind":"fit","conc":100,"val":0.0637},
            {"kind":"fit","conc":133.4,"val":0.0510},
            {"kind":"fit","conc":177.8,"val":0.0408},
            {"kind":"fit","conc":237.1,"val":0.0325},
            {"kind":"fit","conc":309,"val":0.0263}
          ]},
          "encoding": {
            "x": {
              "field": "conc", "type": "quantitative", "title": "Ibogaine concentration (µM)",
              "scale": {"type": "log", "domain": [0.00513, 309], "nice": false},
              "axis": {
                "values": [0.01, 0.033, 0.055, 0.077, 0.1, 0.33, 0.55, 0.77, 1, 3.3, 5.5, 7.7, 10, 33, 55, 77, 100],
                "labelExpr": "indexof([0.01,0.1,1,10,100], datum.value) >= 0 ? (datum.value >= 1 ? format(datum.value, 'd') : format(datum.value, '.2~f')) : ''",
                "tickSize": {"condition": {"test": "indexof([0.01,0.1,1,10,100], datum.value) >= 0", "value": 10}, "value": 6},
                "grid": false, "domainColor": "black", "domainWidth": 3, "domainCap": "square",
                "tickColor": "black", "tickWidth": 2.6,
                "labelFontSize": 21, "labelColor": "black", "labelPadding": 6, "labelOverlap": false, "labelFlush": false,
                "titleFontSize": 25, "titleFontWeight": "bold", "titleColor": "black", "titlePadding": 36
              }
            }
          },
          "layer": [
            {
              "transform": [{"filter": "datum.lo != null"}],
              "mark": {"type": "rule", "strokeWidth": 2.8, "color": "black"},
              "encoding": {
                "y": {
                  "field": "lo", "type": "quantitative", "title": "Normalized hERG current",
                  "scale": {"domain": [0, 1.104], "range": [770, 68], "nice": false, "zero": false},
                  "axis": {
                    "values": [0, 0.2, 0.4, 0.6, 0.8, 1.0], "format": ".1f",
                    "grid": false, "domainColor": "black", "domainWidth": 3, "domainCap": "square",
                    "tickColor": "black", "tickWidth": 2.6, "tickSize": 10,
                    "labelFontSize": 21, "labelColor": "black", "labelPadding": 5,
                    "titleFontSize": 25, "titleFontWeight": "bold", "titleColor": "black", "titlePadding": 16
                  }
                },
                "y2": {"field": "hi"}
              }
            },
            {
              "transform": [{"filter": "datum.lo != null"}],
              "mark": {"type": "tick", "orient": "horizontal", "size": 24, "thickness": 2.8, "color": "black", "opacity": 1},
              "encoding": {"y": {"field": "lo", "type": "quantitative", "title": "Normalized hERG current"}}
            },
            {
              "transform": [{"filter": "datum.lo != null"}],
              "mark": {"type": "tick", "orient": "horizontal", "size": 24, "thickness": 2.8, "color": "black", "opacity": 1},
              "encoding": {"y": {"field": "hi", "type": "quantitative", "title": "Normalized hERG current"}}
            },
            {
              "transform": [{"filter": "datum.kind === 'data'"}],
              "mark": {"type": "point", "shape": "square", "size": 460, "filled": true, "fill": "white", "stroke": "black", "strokeWidth": 2.8, "opacity": 1},
              "encoding": {"y": {"field": "val", "type": "quantitative", "title": "Normalized hERG current"}}
            },
            {
              "transform": [{"filter": "datum.kind === 'fit'"}],
              "mark": {"type": "line", "strokeWidth": 2.6, "interpolate": "monotone", "color": "black"},
              "encoding": {"y": {"field": "val", "type": "quantitative", "title": "Normalized hERG current"}}
            }
          ]
        },
        {
          "encoding": {
            "x": {"field": "t", "type": "quantitative", "scale": {"domain": [-450.6, 1905.3], "nice": false, "zero": false}, "axis": null},
            "y": {"field": "v", "type": "quantitative", "scale": {"domain": [-120, -80, 40], "range": [461.7, 441.7, 405.7], "nice": false, "zero": false}, "axis": null}
          },
          "layer": [
            {
              "data": {"values": [
                {"n":1,"t":-120,"v":-80},{"n":2,"t":0,"v":-80},{"n":3,"t":0,"v":40},{"n":4,"t":300,"v":40},
                {"n":5,"t":300,"v":-120},{"n":6,"t":600,"v":-120},{"n":7,"t":600,"v":-80},{"n":8,"t":700,"v":-80}
              ]},
              "mark": {"type": "line", "strokeWidth": 1.4, "color": "black"},
              "encoding": {"order": {"field": "n", "type": "quantitative"}}
            },
            {
              "data": {"values": [
                {"t":-17,"v":20,"label":"+40 mV"},
                {"t":-22,"v":-116.6,"label":"–80 mV"},
                {"t":274,"v":-122.6,"label":"–120 mV"}
              ]},
              "mark": {"type": "text", "fontSize": 18, "align": "right", "baseline": "middle"},
              "encoding": {"text": {"field": "label"}}
            },
            {
              "data": {"values": [
                {"t":132,"v":79,"label":"300 ms"},
                {"t":459,"v":-156.6,"label":"300 ms"}
              ]},
              "mark": {"type": "text", "fontSize": 18, "align": "center", "baseline": "middle"},
              "encoding": {"text": {"field": "label"}}
            }
          ]
        },
        {
          "encoding": {
            "x": {"field": "t", "type": "quantitative", "scale": {"domain": [-450.6, 1905.3], "nice": false, "zero": false}, "axis": null},
            "y": {"field": "i", "type": "quantitative", "scale": {"domain": [-11.33, 32.67], "nice": false, "zero": false}, "axis": null}
          },
          "layer": [
            {
              "data": {"values": [{"t":-107,"i":0},{"t":803,"i":0}]},
              "mark": {"type": "line", "strokeWidth": 1, "strokeDash": [2, 2], "color": "black"}
            },
            {
              "data": {"values": [
                {"t":-3,"i":0.1},{"t":2,"i":0.1},{"t":4,"i":2.95},{"t":6,"i":0.86},{"t":11,"i":0.95},{"t":30,"i":1.4},
                {"t":67,"i":1.91},{"t":100,"i":2.3},{"t":140,"i":2.65},{"t":180,"i":2.86},{"t":220,"i":3.07},{"t":260,"i":3.24},
                {"t":300,"i":3.37},{"t":306,"i":3.4},{"t":308,"i":-5.9},{"t":313,"i":-4.6},{"t":320,"i":-3.7},{"t":330,"i":-2.8},
                {"t":340,"i":-2.2},{"t":350,"i":-1.7},{"t":360,"i":-1.3},{"t":375,"i":-0.9},{"t":400,"i":-0.45},{"t":430,"i":-0.22},
                {"t":470,"i":-0.12},{"t":520,"i":-0.06},{"t":600,"i":-0.03},{"t":602,"i":0.95},{"t":604,"i":0.27},{"t":715,"i":0.27}
              ]},
              "mark": {"type": "line", "strokeWidth": 2.8, "interpolate": "monotone", "color": "black"}
            },
            {
              "data": {"values": [
                {"n":1,"t":-36,"i":-3.9},{"n":2,"t":-36,"i":-5.9},{"n":3,"t":64,"i":-5.9}
              ]},
              "mark": {"type": "line", "strokeWidth": 2.4, "color": "black"},
              "encoding": {"order": {"field": "n", "type": "quantitative"}}
            },
            {
              "data": {"values": [{"t":-95,"i":-4.82,"label":"2 nA"}]},
              "mark": {"type": "text", "fontSize": 18, "align": "center", "baseline": "middle", "angle": 270},
              "encoding": {"text": {"field": "label"}}
            },
            {
              "data": {"values": [{"t":38,"i":-6.99,"label":"100 ms"}]},
              "mark": {"type": "text", "fontSize": 18, "align": "center", "baseline": "middle"},
              "encoding": {"text": {"field": "label"}}
            }
          ]
        }
      ]
    }
  ]
}
